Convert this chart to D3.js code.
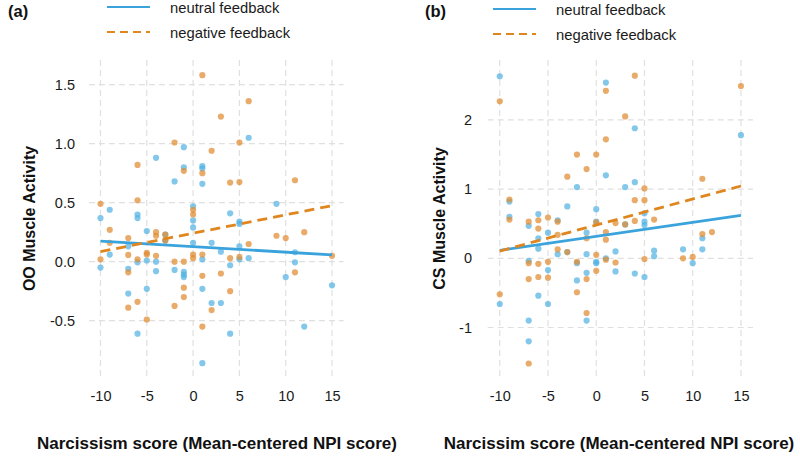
<!DOCTYPE html>
<html><head><meta charset="utf-8">
<script src="https://cdn.jsdelivr.net/npm/d3@7"></script>
<style>
html,body{margin:0;padding:0;background:#fff;}
svg{display:block;font-family:"Liberation Sans",Arial,Helvetica,sans-serif;}
</style></head>
<body><svg id="chart" width="800" height="458"></svg>
<script>
// ---------- data ----------
const xTicks = [-10, -5, 0, 5, 10, 15];
const xTickLabels = ["-10", "-5", "0", "5", "10", "15"];
const yTicksA = [-0.5, 0, 0.5, 1.0, 1.5];
const yTickLabelsA = ["-0.5", "0.0", "0.5", "1.0", "1.5"];
const yTicksB = [-1, 0, 1, 2];
const yTickLabelsB = ["-1", "0", "1", "2"];
const seriesNames = ["neutral feedback", "negative feedback"];

// Panel (a): OO muscle activity  [NPI score, activity]
const neutralA = [[-10,0.37],[-10,-0.05],[-9,0.44],[-9,0.06],[-7,0.13],[-7,-0.06],[-7,-0.27],[-6,0.40],[-6,0.37],[-6,-0.005],[-6,-0.61],[-5,0.26],[-5,0.01],[-5,-0.23],[-4,0.88],[-4,0.0],[-4,-0.08],[-3,0.23],[-3,0.18],[-2,0.68],[-2,-0.07],[-1,0.97],[-1,0.80],[-1,-0.085],[-1,-0.11],[-1,-0.13],[0,0.47],[0,0.35],[0,0.29],[0,0.16],[1,0.81],[1,0.79],[1,0.66],[1,0.02],[1,-0.23],[1,-0.86],[2,0.16],[2,-0.35],[3,0.085],[3,-0.35],[4,0.41],[4,-0.03],[4,-0.61],[5,0.34],[5,0.32],[5,0.13],[5,0.02],[6,1.05],[6,0.03],[9,0.49],[10,-0.13],[11,0.08],[11,-0.005],[12,-0.55],[15,-0.20]];
const negativeA = [[-10,0.49],[-10,0.02],[-9,0.27],[-9,0.16],[-7,0.20],[-7,0.057],[-7,-0.09],[-7,-0.39],[-6,0.82],[-6,0.52],[-6,0.02],[-6,-0.34],[-5,0.076],[-5,0.06],[-5,-0.49],[-4,0.25],[-4,0.22],[-4,0.05],[-3,0.23],[-3,0.18],[-2,1.01],[-2,0.0],[-2,-0.375],[-1,0.77],[-1,0.0],[-1,-0.22],[-1,-0.30],[0,0.44],[0,0.40],[0,0.06],[0,0.03],[1,1.58],[1,0.75],[1,0.06],[1,-0.12],[1,-0.55],[2,0.94],[2,-0.41],[3,1.23],[3,-0.10],[4,0.67],[4,0.03],[4,-0.25],[5,1.01],[5,0.675],[5,0.04],[6,1.36],[6,0.15],[9,0.22],[10,0.20],[11,0.69],[11,-0.09],[12,0.25],[15,0.05]];
const neutralFitA = [[-10,0.175],[15,0.057]];
const negativeFitA = [[-10,0.085],[15,0.475]];

// Panel (b): CS muscle activity
const neutralB = [[-10,2.63],[-10,-0.66],[-9,0.82],[-9,0.60],[-7,0.47],[-7,-0.035],[-7,-0.90],[-7,-1.20],[-6,0.64],[-6,0.29],[-6,0.14],[-6,-0.54],[-5,0.37],[-5,-0.17],[-5,-0.66],[-4,0.55],[-4,0.06],[-3,0.75],[-3,0.09],[-2,1.03],[-2,-0.07],[-2,-0.32],[-1,0.37],[-1,0.06],[-1,-0.21],[-1,-0.90],[0,0.71],[0,0.53],[0,-0.05],[0,-0.07],[1,2.54],[1,1.20],[1,0.0],[2,0.10],[2,-0.19],[3,1.03],[3,0.49],[4,1.88],[4,1.10],[4,-0.22],[5,0.65],[5,0.53],[5,0.48],[5,-0.27],[6,0.11],[6,0.03],[9,0.13],[10,-0.07],[11,0.29],[11,0.13],[15,1.78]];
const negativeB = [[-10,2.27],[-10,-0.52],[-9,0.85],[-9,0.56],[-7,0.53],[-7,-0.07],[-7,-0.30],[-7,-1.52],[-6,0.55],[-6,0.43],[-6,-0.08],[-6,-0.27],[-5,0.59],[-5,-0.05],[-5,-0.28],[-4,0.53],[-4,0.34],[-4,0.13],[-3,1.18],[-3,0.09],[-2,1.50],[-2,-0.05],[-2,-0.49],[-1,1.29],[-1,0.29],[-1,-0.30],[-1,-0.79],[0,1.50],[0,0.52],[0,0.05],[0,-0.18],[1,2.42],[1,1.72],[1,0.38],[1,0.27],[1,-0.02],[2,0.51],[2,-0.06],[3,2.05],[3,0.49],[4,2.64],[4,0.84],[4,0.54],[5,1.01],[5,0.84],[5,-0.01],[6,0.56],[9,0.0],[10,0.02],[11,1.15],[11,0.35],[12,0.38],[15,2.49]];
const neutralFitB = [[-10,0.115],[15,0.62]];
const negativeFitB = [[-10,0.105],[15,1.045]];

// ---------- style ----------
const blue = "#4FB0E2", blueLine = "#3BA3DC";
const orange = "#E08A30", orangeLine = "#E0861F";
const svg = d3.select("#chart");
const FONT = "Liberation Sans, Arial, sans-serif";

function panel(cfg) {
  const x = d3.scaleLinear().domain([-11.25, 16.25]).range([cfg.left, cfg.right]);
  const y = d3.scaleLinear().domain(cfg.ydom).range([cfg.bottom, cfg.top]);
  const g = svg.append("g");
  // grid
  g.append("g").selectAll("line").data(xTicks).join("line")
    .attr("x1", d => x(d)).attr("x2", d => x(d))
    .attr("y1", cfg.top).attr("y2", cfg.bottom)
    .attr("stroke", "#e0e0e0").attr("stroke-width", 1.2).attr("stroke-dasharray", "6,4");
  g.append("g").selectAll("line").data(cfg.yticks).join("line")
    .attr("x1", cfg.left).attr("x2", cfg.right)
    .attr("y1", d => y(d)).attr("y2", d => y(d))
    .attr("stroke", "#e0e0e0").attr("stroke-width", 1.2).attr("stroke-dasharray", "6,4");
  // axes (labels only)
  const xa = g.append("g").attr("transform", `translate(0,${cfg.bottom + 11})`)
    .call(d3.axisBottom(x).tickValues(xTicks).tickSize(0).tickFormat((d, i) => xTickLabels[i]));
  xa.select(".domain").remove();
  xa.selectAll("text").attr("font-size", 14.5).attr("fill", "#1a1a1a").attr("font-family", FONT);
  const ya = g.append("g").attr("transform", `translate(${cfg.ylabX},0)`)
    .call(d3.axisLeft(y).tickValues(cfg.yticks).tickSize(0).tickFormat((d, i) => cfg.ylabels[i]));
  ya.select(".domain").remove();
  ya.selectAll("text").attr("font-size", 14.5).attr("fill", "#1a1a1a").attr("font-family", FONT);
  // points
  const pts = g.append("g");
  pts.selectAll("circle.n").data(cfg.neutral).join("circle").attr("class", "n")
    .attr("cx", d => x(d[0])).attr("cy", d => y(d[1])).attr("r", 3.1)
    .attr("fill", blue).attr("fill-opacity", 0.7);
  pts.selectAll("circle.g").data(cfg.negative).join("circle").attr("class", "g")
    .attr("cx", d => x(d[0])).attr("cy", d => y(d[1])).attr("r", 3.1)
    .attr("fill", orange).attr("fill-opacity", 0.72);
  // fit lines
  const line = d3.line().x(d => x(d[0])).y(d => y(d[1]));
  g.append("path").datum(cfg.nfit).attr("d", line).attr("fill", "none")
    .attr("stroke", blueLine).attr("stroke-width", 2.8);
  g.append("path").datum(cfg.gfit).attr("d", line).attr("fill", "none")
    .attr("stroke", orangeLine).attr("stroke-width", 2.8).attr("stroke-dasharray", "10,6");
  // axis titles
  g.append("text").attr("x", cfg.xtitleX).attr("y", 449).attr("text-anchor", "middle")
    .attr("font-size", 17).attr("font-weight", "bold").attr("fill", "#111").text(cfg.xtitle);
  g.append("text").attr("transform", `translate(${cfg.ytitleX},${(cfg.top + cfg.bottom) / 2}) rotate(-90)`)
    .attr("text-anchor", "middle").attr("font-size", 16).attr("font-weight", "bold").attr("fill", "#111").text(cfg.ytitle);
  // panel tag
  g.append("text").attr("x", cfg.tagX).attr("y", 17).attr("font-size", 16.5).attr("font-weight", "bold")
    .attr("fill", "#111").text(cfg.tag);
  // legend
  const lg = g.append("g");
  const rows = [
    {name: seriesNames[0], y: cfg.legY[0], color: blueLine, dash: null},
    {name: seriesNames[1], y: cfg.legY[1], color: orangeLine, dash: "8,5"}
  ];
  rows.forEach(r => {
    lg.append("line").attr("x1", cfg.legX).attr("x2", cfg.legX + 43).attr("y1", r.y).attr("y2", r.y)
      .attr("stroke", r.color).attr("stroke-width", 2.2).attr("stroke-dasharray", r.dash);
    lg.append("text").attr("x", cfg.legX + 63).attr("y", r.y + 5.5).attr("font-size", 14.8)
      .attr("fill", "#1a1a1a").text(r.name);
  });
}

panel({left: 88.9, right: 343.6, top: 60, bottom: 377, ydom: [-0.977, 1.709],
  yticks: yTicksA, ylabels: yTickLabelsA, ylabX: 78,
  neutral: neutralA, negative: negativeA, nfit: neutralFitA, gfit: negativeFitA,
  xtitle: "Narcissism score (Mean-centered NPI score)", xtitleX: 217,
  ytitle: "OO Muscle Activity", ytitleX: 35, tag: "(a)", tagX: 8,
  legX: 107, legY: [7, 32]});

panel({left: 487.7, right: 753, top: 60, bottom: 377, ydom: [-1.715, 2.866],
  yticks: yTicksB, ylabels: yTickLabelsB, ylabX: 475,
  neutral: neutralB, negative: negativeB, nfit: neutralFitB, gfit: negativeFitB,
  xtitle: "Narcissim score (Mean-centered NPI score)", xtitleX: 619,
  ytitle: "CS Muscle Activity", ytitleX: 445, tag: "(b)", tagX: 425,
  legX: 493, legY: [9, 34]});
</script></body></html>
